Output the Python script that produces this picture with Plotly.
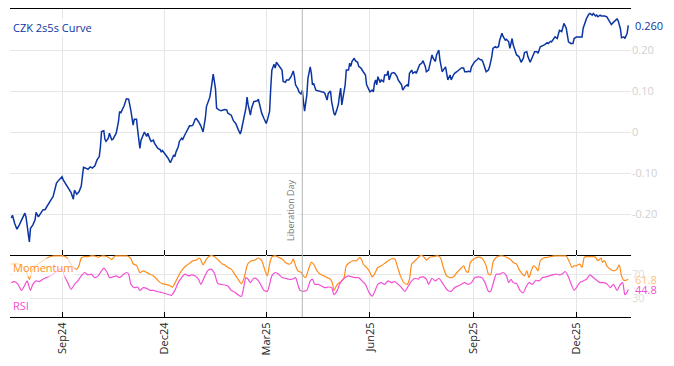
import pandas as pd
import plotly.graph_objects as go

# ---------------- data ----------------
start_date = "2024-07-18"

curve_day = [0, 1, 3, 5, 7, 9, 10, 12, 13, 15, 16, 17, 19, 21, 22, 24, 26, 28, 30, 33,
             35, 37, 38, 40, 41, 44, 45, 46, 47, 49, 51, 53, 55, 56, 58, 60, 62, 63, 64, 66,
             68, 70, 72, 73, 74, 76, 78, 79, 80, 82, 83, 84, 86, 87, 89, 90, 92, 93, 95, 96,
             97, 99, 100, 102, 104, 106, 108, 109, 111, 112, 114, 115, 117, 118, 120, 121, 123, 124, 126, 127,
             129, 130, 132, 133, 134, 136, 138, 139, 141, 142, 144, 145, 146, 148, 149, 151, 152, 154, 155, 157,
             158, 160, 161, 163, 164, 166, 167, 168, 170, 172, 173, 175, 176, 177, 179, 181, 182, 184, 186, 189,
             191, 192, 195, 197, 199, 201, 203, 204, 206, 208, 209, 210, 212, 213, 215, 218, 219, 220, 222, 224,
             226, 227, 229, 230, 231, 233, 234, 235, 237, 238, 240, 241, 243, 244, 246, 248, 250, 251, 252, 254,
             255, 257, 258, 259, 260, 262, 263, 265, 266, 267, 268, 270, 272, 275, 277, 278, 280, 281, 283, 284,
             286, 287, 289, 290, 291, 292, 293, 294, 296, 297, 299, 300, 301, 302, 304, 305, 307, 308, 310, 312,
             314, 315, 317, 318, 320, 321, 322, 323, 324, 325, 327, 328, 330, 331, 333, 334, 335, 337, 339, 340,
             342, 343, 345, 346, 347, 349, 351, 352, 353, 355, 356, 358, 359, 361, 362, 364, 365, 367, 368, 370,
             371, 373, 374, 376, 377, 379, 380, 382, 383, 385, 386, 387, 389, 390, 392, 393, 395, 397, 399, 401,
             402, 404, 405, 407, 408, 410, 411, 413, 414, 416, 417, 418, 420, 421, 423, 424, 426, 427, 429, 430,
             432, 433, 435, 436, 438, 439, 441, 442, 444, 445, 447, 448, 450, 451, 452, 454, 455, 457, 458, 460,
             461, 463, 464, 466, 467, 469, 470, 472, 473, 475, 476, 478, 479, 481, 482, 484, 485, 486, 488, 489,
             490, 492, 493, 494, 496, 498, 499, 501, 503, 504, 506, 507, 508, 509, 510, 512, 513, 515, 516, 518,
             519, 520, 522, 523, 525, 526, 528, 529, 531, 532, 534, 535, 537, 538, 540, 541, 543, 544, 546, 547]
curve_val = [-0.210, -0.203, -0.223, -0.237, -0.227, -0.215, -0.210, -0.198, -0.207, -0.243,
             -0.268, -0.235, -0.227, -0.215, -0.196, -0.207, -0.198, -0.190, -0.189, -0.174,
             -0.166, -0.158, -0.146, -0.125, -0.121, -0.110, -0.109, -0.117, -0.121, -0.129,
             -0.140, -0.148, -0.164, -0.142, -0.152, -0.146, -0.132, -0.109, -0.086, -0.088,
             -0.091, -0.085, -0.088, -0.085, -0.083, -0.068, -0.060, -0.036, 0.001, 0.003,
             -0.018, -0.023, -0.015, -0.003, -0.019, -0.018, -0.006, -0.003, 0.025, 0.050,
             0.046, 0.056, 0.064, 0.081, 0.080, 0.052, 0.017, 0.031, 0.031, 0.005,
             -0.040, -0.020, -0.008, 0.000, -0.011, -0.003, -0.018, -0.023, -0.020, -0.028,
             -0.036, -0.040, -0.043, -0.049, -0.045, -0.052, -0.059, -0.064, -0.075, -0.067,
             -0.056, -0.060, -0.049, -0.036, -0.023, -0.015, -0.018, -0.006, 0.000, 0.013,
             0.015, 0.015, 0.017, 0.031, 0.033, 0.025, 0.021, 0.015, 0.000, 0.033,
             0.062, 0.075, 0.085, 0.102, 0.141, 0.106, 0.058, 0.054, 0.052, 0.055,
             0.054, 0.046, 0.041, 0.027, 0.021, 0.007, -0.005, 0.005, 0.033, 0.058,
             0.085, 0.066, 0.041, 0.058, 0.074, 0.076, 0.080, 0.066, 0.046, 0.033,
             0.021, 0.029, 0.050, 0.107, 0.151, 0.165, 0.156, 0.170, 0.162, 0.156,
             0.151, 0.123, 0.121, 0.127, 0.127, 0.135, 0.149, 0.135, 0.115, 0.106,
             0.098, 0.092, 0.102, 0.074, 0.051, 0.090, 0.131, 0.159, 0.143, 0.115,
             0.119, 0.102, 0.100, 0.098, 0.097, 0.094, 0.078, 0.094, 0.100, 0.074,
             0.046, 0.041, 0.058, 0.068, 0.090, 0.107, 0.066, 0.080, 0.115, 0.151,
             0.151, 0.168, 0.160, 0.172, 0.180, 0.174, 0.170, 0.160, 0.156, 0.147,
             0.139, 0.115, 0.102, 0.098, 0.102, 0.098, 0.119, 0.127, 0.115, 0.135,
             0.121, 0.127, 0.123, 0.139, 0.139, 0.149, 0.127, 0.143, 0.145, 0.143,
             0.135, 0.127, 0.119, 0.115, 0.102, 0.111, 0.115, 0.111, 0.143, 0.151,
             0.143, 0.147, 0.143, 0.156, 0.164, 0.168, 0.174, 0.160, 0.147, 0.151,
             0.165, 0.188, 0.180, 0.172, 0.188, 0.200, 0.176, 0.147, 0.151, 0.159,
             0.143, 0.127, 0.139, 0.127, 0.139, 0.143, 0.147, 0.151, 0.156, 0.156,
             0.147, 0.147, 0.148, 0.147, 0.159, 0.168, 0.172, 0.176, 0.180, 0.176,
             0.176, 0.172, 0.151, 0.147, 0.151, 0.159, 0.184, 0.204, 0.208, 0.206,
             0.208, 0.224, 0.241, 0.233, 0.224, 0.226, 0.220, 0.204, 0.228, 0.212,
             0.196, 0.188, 0.184, 0.176, 0.170, 0.180, 0.194, 0.196, 0.184, 0.170,
             0.176, 0.192, 0.196, 0.196, 0.192, 0.208, 0.210, 0.212, 0.213, 0.218,
             0.216, 0.221, 0.220, 0.229, 0.232, 0.228, 0.242, 0.248, 0.245, 0.259,
             0.265, 0.253, 0.237, 0.220, 0.216, 0.216, 0.228, 0.232, 0.232, 0.232,
             0.232, 0.253, 0.261, 0.265, 0.277, 0.287, 0.289, 0.285, 0.289, 0.283,
             0.285, 0.281, 0.285, 0.283, 0.283, 0.283, 0.281, 0.276, 0.264, 0.262,
             0.268, 0.270, 0.276, 0.272, 0.252, 0.230, 0.232, 0.228, 0.241, 0.260]

mom_day = [0, 4, 9, 13, 16, 19, 24, 28, 33, 37, 41, 46, 49, 52, 55, 58, 60, 62, 65, 68,
           71, 74, 77, 80, 83, 86, 89, 92, 95, 99, 103, 106, 108, 111, 114, 117, 120, 123, 126, 129,
           132, 134, 137, 140, 143, 146, 149, 152, 155, 158, 161, 164, 167, 170, 173, 176, 179, 182, 184, 187,
           189, 192, 195, 198, 201, 204, 206, 209, 210, 213, 216, 219, 222, 225, 227, 229, 231, 234, 237, 240,
           243, 246, 248, 250, 252, 254, 257, 259, 261, 263, 266, 268, 271, 274, 277, 280, 283, 285, 286, 289,
           291, 293, 295, 297, 300, 303, 306, 309, 311, 312, 315, 318, 320, 322, 325, 328, 331, 334, 337, 340,
           343, 345, 348, 351, 353, 355, 358, 361, 362, 365, 368, 371, 374, 377, 379, 381, 383, 386, 389, 392,
           395, 398, 401, 403, 405, 407, 410, 413, 416, 418, 421, 423, 425, 427, 430, 433, 436, 439, 442, 445,
           448, 450, 452, 455, 457, 459, 461, 463, 465, 467, 469, 472, 475, 478, 481, 484, 486, 489, 492, 495,
           497, 499, 501, 504, 506, 508, 510, 513, 516, 518, 520, 523, 524, 526, 528, 531, 534, 537, 539, 541,
           543, 545, 547]
mom_val = [86.7, 87.8, 83.8, 75.5, 61.6, 78.3, 87.0, 92.2, 97.8, 100, 100, 100, 97.8, 89.4, 81.0, 78.3, 83.8, 96.7, 99.0, 99.0,
           100, 100, 97.8, 100, 100, 98.0, 94.0, 100, 100, 100, 100, 95.8, 87.2, 84.4, 72.7, 75.5, 72.7, 70.0, 67.2, 61.7,
           56.1, 54.4, 53.3, 51.7, 48.8, 58.8, 70.0, 78.3, 83.8, 87.8, 92.2, 93.3, 96.7, 85.5, 95.0, 100, 100, 96.0, 92.2, 86.7,
           85.5, 81.1, 78.3, 70.0, 61.7, 54.4, 61.7, 83.8, 87.8, 92.2, 93.3, 96.7, 92.2, 75.5, 67.2, 86.7, 98.3, 100, 97.8, 95.0,
           89.4, 86.7, 87.8, 95.0, 83.8, 75.5, 72.7, 67.2, 64.4, 75.5, 89.4, 86.7, 75.5, 70.0, 67.2, 64.4, 61.7, 53.3, 43.3, 53.3,
           56.1, 58.9, 64.4, 83.8, 89.4, 92.2, 92.2, 97.8, 92.2, 86.7, 81.1, 72.8, 65.5, 70.0, 81.1, 83.8, 87.8, 92.2, 95.0, 95.0,
           78.3, 67.2, 56.1, 53.3, 61.7, 86.7, 92.2, 97.8, 100, 100, 93.3, 97.8, 98.9, 100, 100, 95.0, 81.1, 67.2, 64.4, 65.5,
           72.8, 78.3, 83.8, 75.5, 72.8, 89.4, 95.0, 97.8, 97.8, 95.0, 83.8, 70.0, 68.9, 89.4, 97.8, 100, 100, 97.8, 95.0, 89.4,
           86.7, 78.3, 72.8, 67.2, 75.5, 64.4, 75.5, 83.8, 81.1, 75.5, 92.2, 96.7, 97.8, 98.9, 100, 100, 100, 100, 100, 89.4,
           81.1, 83.8, 83.8, 86.7, 81.1, 97.8, 98.9, 98.9, 98.9, 97.8, 92.2, 96.7, 89.4, 92.2, 83.8, 78.3, 75.5, 78.3, 85.5, 67.2,
           60.0, 60.0, 61.8]

rsi_day = [0, 3, 6, 9, 12, 14, 17, 19, 22, 25, 28, 31, 34, 37, 40, 43, 45, 47, 50, 53,
           56, 59, 62, 65, 68, 71, 74, 77, 80, 82, 85, 87, 90, 93, 96, 99, 102, 104, 106, 109,
           112, 114, 117, 120, 123, 126, 129, 132, 134, 137, 140, 142, 145, 148, 151, 154, 157, 160, 163, 166,
           168, 171, 174, 177, 180, 183, 186, 189, 192, 195, 198, 201, 204, 206, 208, 210, 212, 215, 218, 221,
           224, 227, 229, 231, 234, 237, 240, 243, 246, 249, 252, 254, 256, 259, 262, 265, 267, 269, 272, 275,
           278, 281, 284, 286, 289, 291, 293, 296, 299, 302, 305, 308, 311, 314, 317, 320, 322, 325, 328, 331,
           334, 337, 340, 343, 346, 349, 352, 355, 358, 361, 362, 365, 368, 370, 373, 376, 379, 382, 385, 387,
           390, 393, 396, 399, 402, 405, 408, 411, 414, 417, 420, 423, 425, 427, 430, 433, 436, 439, 441, 443,
           445, 448, 451, 454, 456, 459, 462, 465, 468, 471, 474, 477, 480, 483, 486, 489, 491, 494, 497, 499,
           501, 504, 507, 510, 513, 516, 519, 522, 525, 528, 531, 534, 537, 540, 542, 544, 546, 547]
rsi_val = [56.1, 57.8, 53.3, 43.3, 52.2, 58.9, 43.3, 53.3, 58.9, 57.8, 61.7, 64.4, 67.2, 70.0, 74.5, 78.3, 78.3, 67.2, 56.1, 45.0,
           53.3, 58.9, 67.2, 72.8, 68.9, 70.0, 64.4, 67.2, 75.5, 80.0, 72.8, 64.4, 65.5, 67.2, 64.4, 68.9, 72.8, 70.0, 53.3, 47.8,
           48.9, 43.3, 47.8, 46.7, 43.3, 43.3, 41.7, 40.5, 39.4, 37.8, 36.1, 35.0, 43.3, 56.1, 64.4, 70.0, 67.2, 68.9, 67.2, 61.7,
           53.3, 64.4, 75.5, 78.3, 72.0, 55.0, 53.0, 52.2, 50.5, 43.3, 40.5, 36.1, 33.3, 47.8, 64.4, 61.7, 56.1, 63.3, 61.7, 53.3,
           43.3, 41.7, 53.3, 67.2, 72.8, 70.0, 64.4, 63.3, 61.7, 61.7, 64.4, 53.3, 43.3, 41.7, 43.3, 58.9, 61.7, 53.3, 53.3, 50.5,
           47.8, 48.9, 47.8, 36.1, 43.3, 53.3, 58.9, 64.4, 67.2, 65.5, 64.4, 64.4, 58.9, 53.3, 40.5, 33.9, 40.5, 53.3, 56.1, 53.3,
           58.9, 56.1, 57.8, 53.3, 47.8, 41.7, 50.5, 58.9, 63.3, 61.7, 64.4, 65.5, 61.7, 53.3, 63.3, 58.9, 63.3, 56.1, 47.8, 43.3,
           41.7, 47.8, 50.5, 53.3, 56.1, 53.3, 56.1, 64.4, 65.5, 64.4, 56.1, 41.7, 41.7, 53.3, 70.0, 70.0, 72.8, 67.2, 56.1, 61.7,
           56.1, 54.4, 43.3, 39.4, 47.8, 56.1, 53.3, 60.0, 58.9, 64.4, 65.5, 67.2, 68.9, 70.0, 68.9, 71.1, 74.4, 65.5, 50.5, 43.3,
           47.8, 56.1, 58.9, 61.7, 68.9, 64.4, 60.0, 56.1, 56.1, 54.4, 47.8, 53.3, 43.3, 53.3, 56.1, 36.1, 40.5, 44.8]

tick_dates = ["2024-09-01", "2024-12-01", "2025-03-01", "2025-06-01", "2025-09-01", "2025-12-01"]
tick_labels = ["Sep24", "Dec24", "Mar25", "Jun25", "Sep25", "Dec25"]
curve_ticks = [-0.2, -0.1, 0, 0.1, 0.2]
curve_tick_labels = ["-0.20", "-0.10", "0", "0.10", "0.20"]
osc_ticks = [30, 70]
osc_tick_labels = ["30", "70"]
event_date = "2025-04-02"
event_label = "Liberation Day"
series_names = ["CZK 2s5s Curve", "Momentum", "RSI"]
x_range = ["2024-07-16 20:00", "2026-01-18 10:00"]

# ---------------- styling ----------------
BLUE = "#0b35a3"
ORANGE = "#ff8c1a"
PINK = "#f24fd4"
GRID = "#e6e6e6"
TICKGREY = "#d0d0d0"
FONT = "Open Sans"

t0 = pd.Timestamp(start_date)
curve_x = [t0 + pd.Timedelta(days=d) for d in curve_day]
mom_x = [t0 + pd.Timedelta(days=d) for d in mom_day]
rsi_x = [t0 + pd.Timedelta(days=d) for d in rsi_day]

split = 62 / 308

fig = go.Figure()
fig.add_trace(go.Scatter(x=curve_x, y=curve_val, mode="lines", name=series_names[0],
                         line=dict(color=BLUE, width=1.5), xaxis="x", yaxis="y"))
fig.add_trace(go.Scatter(x=mom_x, y=mom_val, mode="lines", name=series_names[1],
                         line=dict(color=ORANGE, width=1.2, shape="spline", smoothing=0.6),
                         xaxis="x2", yaxis="y2"))
fig.add_trace(go.Scatter(x=rsi_x, y=rsi_val, mode="lines", name=series_names[2],
                         line=dict(color=PINK, width=1.2, shape="spline", smoothing=0.6),
                         xaxis="x2", yaxis="y2"))

axis_common = dict(type="date", range=x_range, tickvals=tick_dates, ticktext=tick_labels,
                   showgrid=True, gridcolor=GRID, gridwidth=1, showline=True,
                   linecolor="#000000", linewidth=1, ticks="inside", ticklen=5,
                   tickcolor="#000000", zeroline=False)

# the page body has an 8px default margin: the figure is sized so that the
# plot area lands where the reference puts it
fig.update_layout(
    width=666, height=358,
    margin=dict(l=2, r=43, t=1, b=49, autoexpand=False),
    paper_bgcolor="white", plot_bgcolor="white",
    showlegend=False,
    font=dict(family=FONT, size=11, color="#222"),
    xaxis=dict(**axis_common, anchor="y", mirror=True, showticklabels=False),
    xaxis2=dict(**axis_common, anchor="y2", matches="x", showticklabels=True,
                tickangle=-90, tickfont=dict(size=11, color="#222", family=FONT)),
    yaxis=dict(domain=[split, 1], anchor="x", side="right", range=[-0.3, 0.3],
               tickvals=curve_ticks, ticktext=curve_tick_labels, showgrid=True,
               gridcolor=GRID, zeroline=False, showline=False, ticks="",
               automargin=False,
               tickfont=dict(size=11, color=TICKGREY, family=FONT)),
    yaxis2=dict(domain=[0, split], anchor="x2", side="right", range=[-0.5, 101.6],
                tickvals=osc_ticks, ticktext=osc_tick_labels, showgrid=True,
                gridcolor=GRID, zeroline=False, showline=False, ticks="",
                automargin=False,
                tickfont=dict(size=11, color="#dddddd", family=FONT)),
)

fig.add_shape(type="line", xref="x", yref="paper", x0=event_date, x1=event_date,
              y0=0, y1=1, line=dict(color="#b4b4b4", width=1))

annotations = [
    dict(text=series_names[0], xref="paper", yref="paper", x=0, y=1, xanchor="left",
         yanchor="top", xshift=1, yshift=-9, showarrow=False,
         font=dict(size=11, color=BLUE), bgcolor="rgba(255,255,255,0.85)"),
    dict(text=series_names[1], xref="paper", yref="y2", x=0, y=81, xanchor="left",
         yanchor="middle", xshift=1, showarrow=False,
         font=dict(size=11, color=ORANGE), bgcolor="rgba(255,255,255,0.7)"),
    dict(text=series_names[2], xref="paper", yref="y2", x=0, y=18.5, xanchor="left",
         yanchor="middle", xshift=1, showarrow=False,
         font=dict(size=11, color=PINK), bgcolor="rgba(255,255,255,0.85)"),
    dict(text=f"{curve_val[-1]:.3f}", xref="paper", yref="y", x=1, y=curve_val[-1],
         xanchor="left", yanchor="middle", xshift=2, showarrow=False,
         font=dict(size=11, color=BLUE), bgcolor="white"),
    dict(text=f"{mom_val[-1]:.1f}", xref="paper", yref="y2", x=1, y=mom_val[-1],
         xanchor="left", yanchor="middle", xshift=2, showarrow=False,
         font=dict(size=11, color="#ffbf80")),
    dict(text=f"{rsi_val[-1]:.1f}", xref="paper", yref="y2", x=1, y=rsi_val[-1],
         xanchor="left", yanchor="middle", xshift=2, showarrow=False,
         font=dict(size=11, color=PINK)),
    dict(text=event_label, xref="x", yref="y", x=event_date, y=-0.271,
         xanchor="center", yanchor="bottom", xshift=-12, textangle=-90,
         showarrow=False, font=dict(size=9, color="#777777"), bgcolor="white"),
]
fig.update_layout(annotations=annotations)

fig.write_html("out.html")
